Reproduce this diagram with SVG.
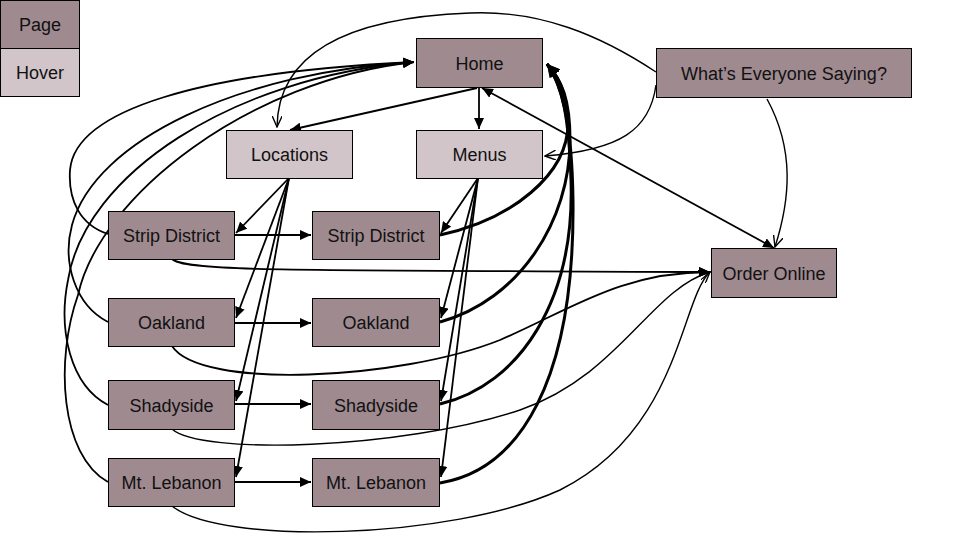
<svg xmlns="http://www.w3.org/2000/svg" width="958" height="559" viewBox="0 0 958 559">
<style>
.page{fill:#9f8a90;stroke:#000;stroke-width:1}
.hover{fill:#d1c5c9;stroke:#000;stroke-width:1}
text{font-family:"Liberation Sans",Arial,sans-serif;font-size:18px;fill:#111;text-anchor:middle}
.c{fill:none;stroke:#000;stroke-width:1.8}
.t{fill:none;stroke:#000;stroke-width:1.4}
.k{fill:none;stroke:#000;stroke-width:3}
</style>
<defs>
<marker id="af" markerUnits="userSpaceOnUse" markerWidth="12" markerHeight="10" refX="11" refY="5" orient="auto"><path d="M0,0 L11,5 L0,10 z" fill="#000"/></marker>
<marker id="ab" markerUnits="userSpaceOnUse" markerWidth="14" markerHeight="12" refX="13" refY="6" orient="auto"><path d="M0,0 L13,6 L0,12 z" fill="#000"/></marker>
<marker id="ao" markerUnits="userSpaceOnUse" markerWidth="12" markerHeight="10" refX="11" refY="5" orient="auto"><path d="M0,0 L11,5 L0,10" fill="none" stroke="#000" stroke-width="1.4"/></marker>
<marker id="as" markerUnits="userSpaceOnUse" markerWidth="12" markerHeight="10" refX="11" refY="5" orient="auto-start-reverse"><path d="M0,0 L11,5 L0,10 z" fill="#000"/></marker>
</defs>
<g id="connectors">
<path class="c" d="M477,88 L290,130" marker-end="url(#af)"/>
<path class="c" d="M479,88 L479,129" marker-end="url(#af)"/>
<path class="c" d="M482,88 L774,248" marker-start="url(#as)" marker-end="url(#as)"/>
<path class="t" d="M656,72 C600,35 540,10 470,13 C335,18 278,60 277,127" marker-end="url(#ao)"/>
<path class="t" d="M656,85 C650,130 620,150 545,156" marker-end="url(#ao)"/>
<path class="t" d="M767,99 C795,150 790,200 775,247" marker-end="url(#ao)"/>
<path class="c" d="M234,235 L311,235" marker-end="url(#af)"/>
<path class="c" d="M234,323 L311,323" marker-end="url(#af)"/>
<path class="c" d="M234,404 L311,404" marker-end="url(#af)"/>
<path class="c" d="M234,482 L311,482" marker-end="url(#af)"/>
<path class="c" d="M289,178 L236,233" marker-end="url(#af)"/>
<path class="c" d="M289,178 L236,318" marker-end="url(#af)"/>
<path class="c" d="M289,178 L236,401" marker-end="url(#af)"/>
<path class="c" d="M289,178 L236,477" marker-end="url(#af)"/>
<path class="c" d="M478,178 L441,233" marker-end="url(#af)"/>
<path class="c" d="M478,178 L441,318" marker-end="url(#af)"/>
<path class="c" d="M478,178 L441,401" marker-end="url(#af)"/>
<path class="c" d="M478,178 L441,477" marker-end="url(#af)"/>
<path class="k" d="M440,235 C510,220 570,175 568,120 C567,95 560,78 547,64" marker-end="url(#ab)"/>
<path class="k" d="M440,322 C520,300 570,220 570,140 C570,100 562,80 547,64" marker-end="url(#ab)"/>
<path class="k" d="M440,404 C520,385 575,300 571,180 C569,120 563,85 547,64" marker-end="url(#ab)"/>
<path class="k" d="M440,483 C520,470 575,380 573,200 C572,130 564,88 547,64" marker-end="url(#ab)"/>
<path class="c" d="M108,234 C80,225 68,200 70,170 C75,110 200,72 414,62" marker-end="url(#af)"/>
<path class="c" d="M108,322 C75,305 62,262 72,225 C95,140 240,72 414,62" marker-end="url(#af)"/>
<path class="c" d="M108,405 C70,385 58,330 68,280 C85,175 230,78 414,62" marker-end="url(#af)"/>
<path class="c" d="M108,482 C60,455 55,360 78,295 C100,195 250,80 414,62" marker-end="url(#af)"/>
<path class="c" d="M172,259 C185,272 300,270 710,272" marker-end="url(#af)"/>
<path class="c" d="M172,346 C200,390 400,380 500,340 C570,310 620,272 710,272" marker-end="url(#af)"/>
<path class="t" d="M172,429 C200,455 400,450 520,410 C620,375 650,290 710,272" marker-end="url(#ao)"/>
<path class="t" d="M172,506 C220,545 450,540 560,490 C680,430 680,300 710,272" marker-end="url(#ao)"/>
</g>
<g id="legend-page"><rect class="page" x="0.5" y="0.5" width="79" height="48"/><text x="40" y="31">Page</text></g>
<g id="legend-hover"><rect class="hover" x="0.5" y="48.5" width="79" height="48"/><text x="40" y="79">Hover</text></g>
<g id="home"><rect class="page" x="416.5" y="38.5" width="126" height="49"/><text x="479.5" y="69.5">Home</text></g>
<g id="whats"><rect class="page" x="656.5" y="48.5" width="255" height="49"/><text x="784" y="79.5">What’s Everyone Saying?</text></g>
<g id="locations"><rect class="hover" x="226.5" y="130.5" width="126" height="48"/><text x="289.5" y="161">Locations</text></g>
<g id="menus"><rect class="hover" x="416.5" y="130.5" width="126" height="48"/><text x="479.5" y="161">Menus</text></g>
<g id="order-online"><rect class="page" x="711.5" y="248.5" width="125" height="49"/><text x="774" y="279.5">Order Online</text></g>
<g id="loc-strip"><rect class="page" x="108.5" y="211.5" width="126" height="48"/><text x="171.5" y="242">Strip District</text></g>
<g id="loc-oakland"><rect class="page" x="108.5" y="298.5" width="126" height="48"/><text x="171.5" y="329">Oakland</text></g>
<g id="loc-shadyside"><rect class="page" x="108.5" y="380.5" width="126" height="49"/><text x="171.5" y="411.5">Shadyside</text></g>
<g id="loc-mtlebanon"><rect class="page" x="108.5" y="458.5" width="126" height="48"/><text x="171.5" y="489">Mt. Lebanon</text></g>
<g id="menu-strip"><rect class="page" x="312.5" y="211.5" width="127" height="48"/><text x="376" y="242">Strip District</text></g>
<g id="menu-oakland"><rect class="page" x="312.5" y="298.5" width="127" height="48"/><text x="376" y="329">Oakland</text></g>
<g id="menu-shadyside"><rect class="page" x="312.5" y="380.5" width="127" height="49"/><text x="376" y="411.5">Shadyside</text></g>
<g id="menu-mtlebanon"><rect class="page" x="312.5" y="458.5" width="127" height="48"/><text x="376" y="489">Mt. Lebanon</text></g>
</svg>
